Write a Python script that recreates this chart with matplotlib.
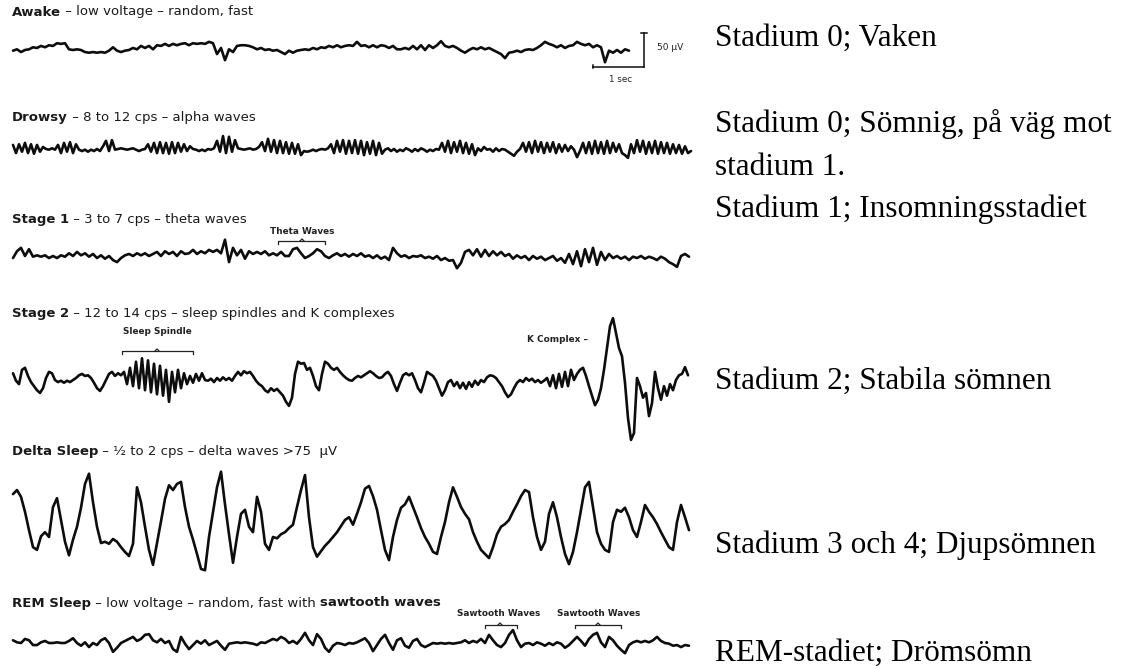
import numpy as np
import matplotlib
matplotlib.use("Agg")
import matplotlib.pyplot as plt
from matplotlib.transforms import Affine2D

# ---------------- data (amplitudes in microvolts, upward positive) ----------------
awake_uv = [
    -1, 1, -3, 0, 1, 4, 3, 6, 4, 7,
    6, 10, 9, 10, 1, 0, 1, 0, -3, -4,
    -3, -4, -3, -4, -1, 4, -1, -3, -1, 0,
    3, 1, 6, 3, 6, 1, 7, 6, 9, 6,
    9, 7, 9, 10, 7, 10, 9, 10, 9, 12,
    10, -6, 3, -15, 1, -3, 6, 7, 7, 6,
    4, 1, 3, 0, 1, -1, 0, -3, -6, -1,
    -4, -1, 0, 1, 0, 3, 1, 4, 3, 6,
    4, 7, 4, 6, 7, 6, 12, 6, 7, 4,
    7, 4, 7, 6, 3, 6, 1, 1, 3, 1,
    6, 1, 7, 0, 7, 3, 7, 13, 6, 4,
    6, 3, -1, -4, 0, 3, 1, 4, 1, 3,
    0, -3, -6, -12, -4, -3, -1, -3, 0, 1,
    0, 3, 7, 12, 9, 7, 4, 7, 3, 6,
    7, 12, 9, 7, 9, 4, 7, 4, -18, -1,
    -4, 0, -4, 1, -1]

drowsy_uv = [
    6, -6, 7, -4, 9, -6, 7, -7, 6, -4, 3,
    0, -1, 1, -1, 6,
    -6, 9, -4, 10, -6, 7,
    -1, -3, -1, -4, -1, -3, 0, -3,
    4, 12, -3, 13, -1,
    0, 1, 0, -1, 0, 1, -1, -3, -1, 0,
    7, -4, 9, -6, 10, -6, 9, -7, 10, -6, 9, -4, 7, -3, 4,
    0, -1, -3, -1, -3, 0, -1, 1,
    12, -4, 19, -6, 18, -4, 13,
    1, 0, -1, 0, 1, -1, 0, 3,
    10, -3, 15, -4, 13, -6, 12, -6, 10, -7, 9, -7, 7, -9,
    -3, -4, -3, -1, -3, -1, 0, -1, 1,
    7, -6, 12, -4, 13, -7, 12, -6, 13, -7, 12, -9, 10, -7, 12, -9, 9, -7,
    -1, 1, -3, 0, -4, -1, -3, 1, -1, -4, 0, -3, 1, -1, -4, -1, -3, 0, -1,
    9, -4, 12, -6, 10, -4, 12, -6, 9, -7, 7, -9,
    1, -3, 3, -1, 0, -4, 1, -3, 0, -1, -4, -7, -10, -4, 0,
    9, -4, 10, -6, 12, -4, 10, -6, 9, -4, 10, -6, 7, -4, 6, -3, 4, -1,
    -12, -3, 9, -6, 10, -7, 12, -6, 10, -7, 12, -6, 9, -4, 7, -6, -9, -13,
    7, -6, 13, -4, 12, -7, 10, -6, 12, -7, 10, -6, 9, -7, 7, -6, 6, -7, 4, -6, -3]

stage1_uv = [
    -3, 7, 12, 0, 10, -1, 1, -1, 1, -3,
    0, -3, 1, -1, 4, 0, 6, 1, 4, -1,
    3, -3, 1, -4, 0, -6, -9, -3, 1, 3,
    0, 4, 1, 4, 0, 3, 6, 0, 7, 3,
    6, 0, 7, 3, 4, 9, 3, 7, 4, 9,
    6, 9, 4, 24, -9, 12, 1, 9, -4, 7,
    3, 6, 3, 7, 1, 4, 1, 6, 0, 0,
    10, 12, 4, -3, 0, 4, 10, 7, 0, -3,
    1, 4, 0, 3, -1, 3, 0, 4, -1, 1,
    -3, 1, -4, -1, -6, 12, 4, -1, 1, -3,
    0, -1, 1, -3, -1, -4, 0, -6, -3, -7,
    -6, -18, -10, 6, 9, 1, 10, -1, 9, 0,
    7, 1, 6, 0, 3, -4, 1, -3, 0, -6,
    0, -4, -1, -6, -3, 0, -7, -3, -10, 3,
    -12, 7, -15, 10, -9, 12, -13, 6, -6, 3,
    -3, 0, -4, -1, -6, -1, -3, 0, -4, -1,
    -3, -6, -1, -4, -9, -12, -16, 0, 3, -1]

stage2_uv = [
    7, -4, -9, 12, 15, 3, -6, -12, -18, -22, -15,
    0, 9, 7, -3,
    -6, -4, -7, -4, -6, -3, 0,
    4, 6, 3, 4, 0, -7,
    -15, -19, -12, -3,
    6, 9, 3, 7, 4,
    9, -9, 15, -12, 24, -15, 29, -18, 26, -21, 21, -24, 18, -26, 12, -35, 9, -21, 12, -15, 7, -9,
    3, -7, 6, -4, 7, -3,
    -4, -1, -6, 0, -4, 1, -3, 0, -4,
    3, 9, 4, 10, 7, 9, 3,
    -4, -9, -12, -18, -21, -15, -19, -16,
    -21, -26, -35, -41, -29,
    6, 24, 21, 22, 12,
    15, 3, -12, -18,
    6, 24, 21,
    15, 12, 15, 9, 4, 0, -3, -4, 0, 3, 1, 4, 7, 10, 7, 3, 0,
    1, 6, 9, 3, -9, -19,
    -7, 4, 7, 4, 7,
    -3, -15, -21, -7, 9, 6,
    3, -4, -15, -26, -18, -6,
    -3, -12, -6, -15, -7, -16, -6, -13, -4, -10, -3, -6,
    1, 4, 3, 0, -6, -12,
    -21, -28, -24, -15, -7,
    -3, -6, 0, -4, -1, -6, -3, -7, -4,
    0, -12, 4, -15, 6, -13, 9, -12, 12,
    -3, 6, 12, 15, 3,
    -12, -26, -40, -32,
    -15, 12, 44, 76, 88,
    66, 44, 32,
    -7, -59, -91, -81,
    0,
    -12, -29, -22, -56, -37,
    9, -15,
    -32, -12, -26, -9, -18,
    -3, 4, 6, 16, 4]

delta_uv = [
    41, 47, 37, 15, -12, -37, -41, -21, -15, -22,
    22, 35, 3, -29, -49, -26, -7, 21, 56, 71,
    29, -7, -31, -29, -32, -25, -29, -37, -44, -50,
    -32, 51, 29, -7, -41, -63, -31, 1, 34, 54,
    47, 56, 59, 22, -7, -26, -47, -69, -71, -22,
    15, 51, 74, 26, -18, -60, -22, 12, 18, -7,
    -15, 37, 15, -32, -41, -22, -24, -18, -15, -9,
    -4, 22, 47, 69, 7, -37, -51, -43, -35, -29,
    -22, -15, -6, 3, 7, -4, 12, 29, 49, 53,
    38, 18, -12, -41, -56, -22, 3, 21, 26, 37,
    22, 7, -9, -22, -32, -44, -47, -22, 0, 29,
    51, 37, 22, 12, 4, -15, -29, -41, -47, -53,
    -37, -18, -7, -3, 3, 15, 26, 38, 47, 44,
    7, -22, -41, -29, 12, 29, 7, -22, -47, -62,
    -44, -15, 18, 51, 59, 22, -15, -32, -41, -44,
    0, 18, 15, 21, 7, -12, -22, 0, 25, 15,
    7, -3, -15, -26, -37, -41, 0, 25, 7, -12]

rem_uv = [
    4, 1, 0, 6, 4, -3, -3, 1, 3, 0,
    0, 1, 0, 0, 3, 7, 0, -4, 1, -6,
    0, -3, 4, 7, 0, -13, -7, 0, 3, 6,
    9, 3, 6, 12, 13, 4, 1, 6, 0, 3,
    -9, -13, 9, -1, -9, -3, 3, -1, 4, -3,
    0, 3, -4, -10, -1, 0, 1, 0, 1, 0,
    -1, -3, 1, 0, 3, 6, 4, 9, 6, 0,
    3, -1, 6, 15, 4, -3, 13, 6, -7, -13,
    -4, 0, -1, -3, 0, -1, 1, 4, 7, 0,
    -12, -3, 6, 12, 0, -10, 4, 7, -4, -7,
    3, 6, -3, -6, -3, 0, -1, 0, -1, 0,
    -1, 0, 1, 4, 0, 3, 1, 6, 0, 12,
    4, -3, -6, 0, 12, 19, 4, -6, -1, 0,
    -3, 1, -1, -4, 0, -3, 1, -1, -7, -3,
    3, 9, 3, -4, 6, 12, 15, 1, -6, 9,
    4, -4, -10, -15, -3, 1, 3, 1, 3, 1,
    4, 9, 3, 0, -1, -4, -3, -6, -3, -4]

# sampling rates (samples per second) of each recording
sample_rates = [12.75, 17.0, 12.75, 17.0, 12.75, 12.75]

titles = [
    [("Awake", "bold"), (" \u2013 low voltage \u2013 random, fast", "normal")],
    [("Drowsy", "bold"), (" \u2013 8 to 12 cps \u2013 alpha waves", "normal")],
    [("Stage 1", "bold"), (" \u2013 3 to 7 cps \u2013 theta waves", "normal")],
    [("Stage 2", "bold"), (" \u2013 12 to 14 cps \u2013 sleep spindles and K complexes", "normal")],
    [("Delta Sleep", "bold"), (" \u2013 \u00bd to 2 cps \u2013 delta waves >75  \u00b5V", "normal")],
    [("REM Sleep", "bold"), (" \u2013 low voltage \u2013 random, fast with ", "normal"),
     ("sawtooth waves", "bold")],
]

stage_labels = [
    "Stadium 0; Vaken",
    "Stadium 0; Sömnig, på väg mot",
    "stadium 1.",
    "Stadium 1; Insomningsstadiet",
    "Stadium 2; Stabila sömnen",
    "Stadium 3 och 4; Djupsömnen",
    "REM-stadiet; Drömsömn",
]

SCALE_UV = 50      # vertical calibration bar
SCALE_SEC = 1      # horizontal calibration bar

# ---------------- layout (pixels) ----------------
W, H = 1124, 669
PX_PER_SEC = 51.0
PX_PER_UV = 34.0 / 50.0
TRACE_X0 = 13
trace_baselines = [50, 149, 256, 378, 522, 643]
title_y = [12, 118, 219, 313, 451, 603]
label_baselines = [46, 132, 175, 217, 389, 553, 661]
LABEL_X = 715

fig = plt.figure(figsize=(W / 100, H / 100), dpi=100)
ax = fig.add_axes([0, 0, 1, 1])
ax.set_xlim(0, W)
ax.set_ylim(H, 0)
ax.axis("off")

ink = "#0d0d0d"
traces = [awake_uv, drowsy_uv, stage1_uv, stage2_uv, delta_uv, rem_uv]
for vals, fs, base in zip(traces, sample_rates, trace_baselines):
    v = np.asarray(vals, dtype=float)
    t = np.arange(len(v)) / fs
    tr = Affine2D().scale(PX_PER_SEC, -PX_PER_UV).translate(TRACE_X0, base) + ax.transData
    ax.plot(t, v, color=ink, lw=1.9, solid_joinstyle="round", solid_capstyle="round",
            transform=tr)

renderer = fig.canvas.get_renderer()


def mixed_text(x, y, parts, size):
    for txt, weight in parts:
        t = ax.text(x, y, txt, fontsize=size, fontweight=weight, family="DejaVu Sans",
                    color="#1a1a1a", ha="left", va="center")
        bb = t.get_window_extent(renderer)
        x += bb.width


for parts, y in zip(titles, title_y):
    mixed_text(12, y, parts, 9.5)

# right-hand Swedish labels
for txt, y in zip(stage_labels, label_baselines):
    ax.text(LABEL_X, y, txt, fontsize=22.5, family="Liberation Serif", color="black",
            ha="left", va="baseline")

# calibration bars
bar_x, bar_y = 644, 67
bar_tr = Affine2D().scale(PX_PER_SEC, -PX_PER_UV).translate(bar_x, bar_y) + ax.transData
ax.plot([0, 0], [0, SCALE_UV], color=ink, lw=1.1, transform=bar_tr)
ax.plot([-SCALE_SEC, 0], [0, 0], color=ink, lw=1.1, transform=bar_tr)
ax.plot([-0.05, 0.05], [SCALE_UV, SCALE_UV], color=ink, lw=1.1, transform=bar_tr)
ax.plot([-SCALE_SEC, -SCALE_SEC], [-2, 3], color=ink, lw=1.1, transform=bar_tr)
ax.text(657, 47, f"{SCALE_UV} \u00b5V", fontsize=6.5, family="DejaVu Sans", color="#222",
        ha="left", va="center")
ax.text(621, 79, f"{SCALE_SEC} sec", fontsize=6.3, family="DejaVu Sans", color="#222",
        ha="center", va="center")


def bracket(x1, x2, y, xm):
    ax.plot([x1, x1, x2, x2], [y + 3, y, y, y + 3], color="#222", lw=0.9)
    ax.plot([xm - 2, xm, xm + 2], [y, y - 2, y], color="#222", lw=0.9)


ann_kw = dict(fontsize=6.4, family="DejaVu Sans", color="#222", ha="center", va="center",
              fontweight="bold")
ax.text(302, 231, "Theta Waves", **ann_kw)
bracket(278, 325, 241, 302)
ax.text(157, 331, "Sleep Spindle", **ann_kw)
bracket(122, 193, 351, 157)
ax.text(527, 340, "K Complex \u2013", fontsize=6.4, family="DejaVu Sans", color="#222",
        ha="left", va="center", fontweight="bold")
ax.text(499, 614, "Sawtooth Waves", **ann_kw)
bracket(485, 517, 625, 500)
ax.text(599, 614, "Sawtooth Waves", **ann_kw)
bracket(575, 621, 625, 598)

fig.savefig("out.png", dpi=100, facecolor="white")
